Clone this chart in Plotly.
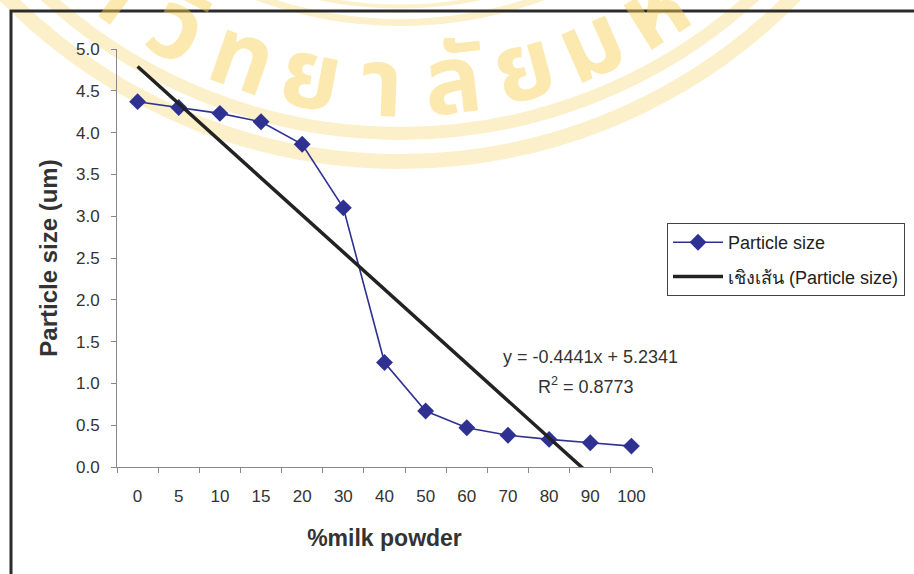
import math
import plotly.graph_objects as go

# ---- data -------------------------------------------------------------
milk_powder_pct = ["0", "5", "10", "15", "20", "30", "40", "50", "60", "70", "80", "90", "100"]
particle_size = [4.37, 4.30, 4.23, 4.13, 3.86, 3.10, 1.25, 0.67, 0.47, 0.38, 0.33, 0.29, 0.25]
y_ticks = [0.0, 0.5, 1.0, 1.5, 2.0, 2.5, 3.0, 3.5, 4.0, 4.5, 5.0]

# linear trendline fitted on the category index (1..n)
trend_slope = -0.4441
trend_intercept = 5.2341
trend_r2 = 0.8773

seal_letters = ["า", "วิ", "ท", "ย", "า", "ลั", "ย", "ม", "ห", "า"]

# ---- layout geometry (pixels) -----------------------------------------
W, H = 914, 574
ML, MR, MT, MB = 117, 262, 49, 107
PW, PH = W - ML - MR, H - MT - MB


def px_x(p):
    return (p - ML) / PW


def px_y(p):
    return (H - MB - p) / PH


FONT = "Liberation Sans, Arial, sans-serif"
TXT = "#333333"

n = len(milk_powder_pct)
trend_vals = [trend_slope * (i + 1) + trend_intercept for i in range(n)]

fig = go.Figure()
fig.add_trace(go.Scatter(
    x=milk_powder_pct, y=particle_size, name="Particle size",
    mode="lines+markers",
    line=dict(color="#2E3192", width=1.6),
    marker=dict(symbol="diamond", size=13, color="#2E3192"),
    legendgroup="a",
))
fig.add_trace(go.Scatter(
    x=milk_powder_pct, y=trend_vals, name="เชิงเส้น (Particle size)",
    mode="lines", line=dict(color="#222222", width=3.5),
    legendgroup="b",
))

# ---- faint seal in the background --------------------------------------
cx, cy = 400, -391.5
shapes = []
for r, w in [(398, 4), (414, 7), (525, 13), (553, 15)]:
    shapes.append(dict(
        type="circle", xref="paper", yref="paper", layer="below",
        x0=px_x(cx - r), x1=px_x(cx + r), y0=px_y(cy + r), y1=px_y(cy - r),
        line=dict(color="#FCF0CB", width=w), fillcolor="rgba(0,0,0,0)",
    ))

annotations = []
r_txt = 478
start, step = -36.5, 8.6
for i, ch in enumerate(seal_letters):
    phi = start + i * step
    a = math.radians(phi)
    annotations.append(dict(
        x=px_x(cx + r_txt * math.sin(a)), y=px_y(cy + r_txt * math.cos(a)),
        xref="paper", yref="paper", text=ch, showarrow=False,
        textangle=-phi, xanchor="center", yanchor="middle",
        font=dict(family="Noto Sans Thai, Noto Sans, sans-serif", size=96,
                  color="rgba(248, 206, 78, 0.45)", weight="bold"),
    ))

# chart-area frame (only its top and left edges fall inside the page)
shapes.append(dict(
    type="path", xref="paper", yref="paper", layer="above",
    path=f"M {px_x(11)},{px_y(H + 5)} L {px_x(11)},{px_y(11)} L {px_x(W + 5)},{px_y(11)}",
    line=dict(color="#2B2B2B", width=3), fillcolor="rgba(0,0,0,0)",
))

# trendline equation
annotations.append(dict(
    x=px_x(590), y=px_y(357), xref="paper", yref="paper", showarrow=False,
    text=f"y = {trend_slope:.4f}x + {trend_intercept:.4f}",
    font=dict(family=FONT, size=18, color=TXT), xanchor="center", yanchor="middle",
))
annotations.append(dict(
    x=px_x(586), y=px_y(385), xref="paper", yref="paper", showarrow=False,
    text=f"R<sup>2</sup> = {trend_r2:.4f}",
    font=dict(family=FONT, size=18, color=TXT), xanchor="center", yanchor="middle",
))

fig.update_layout(
    width=W, height=H,
    margin=dict(l=ML, r=MR, t=MT, b=MB, autoexpand=False),
    paper_bgcolor="white", plot_bgcolor="rgba(0,0,0,0)",
    font=dict(family=FONT, size=17, color=TXT),
    showlegend=True,
    legend=dict(
        x=px_x(667), y=px_y(223), xanchor="left", yanchor="top",
        bgcolor="white", bordercolor="#444444", borderwidth=1,
        font=dict(family=FONT, size=18, color="#222222"),
        tracegroupgap=8, itemwidth=50,
    ),
    xaxis=dict(
        type="category", tickson="boundaries", range=[-0.5, n - 0.5],
        showline=True, linecolor="#888888", linewidth=1,
        ticks="outside", ticklen=5, tickcolor="#888888",
        showgrid=False, zeroline=False,
        tickfont=dict(family=FONT, size=17, color=TXT),
        ticklabelstandoff=14,
        title=dict(text="<b>%milk powder</b>", standoff=24,
                   font=dict(family=FONT, size=23, color=TXT)),
    ),
    yaxis=dict(
        range=[0, 5], tickvals=y_ticks, tickformat=".1f",
        showline=True, linecolor="#888888", linewidth=1,
        ticks="outside", ticklen=5, tickcolor="#888888",
        showgrid=False, zeroline=False,
        tickfont=dict(family=FONT, size=17, color=TXT),
        ticklabelstandoff=8,
        title=dict(text="<b>Particle size (um)</b>", standoff=11,
                   font=dict(family=FONT, size=24, color=TXT)),
    ),
    shapes=shapes, annotations=annotations,
)

fig.write_html("out.html")
